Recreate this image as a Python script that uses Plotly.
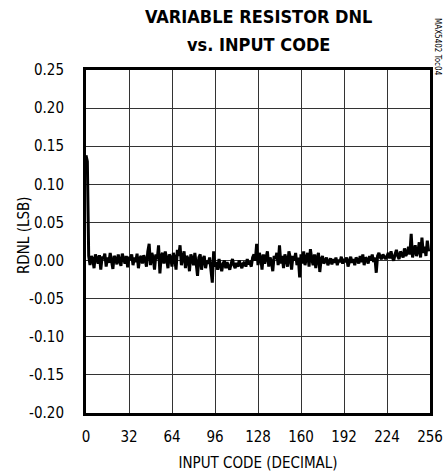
import plotly.graph_objects as go

codes = list(range(256))
rdnl = [
    0.138, 0.130, 0.006, -0.006, 0.006, 0.002, -0.010, 0.008, 0.003, -0.004, 0.007, -0.012, 0.005, 0.002, 0.009, -0.008,
    0.004, -0.003, 0.010, 0.001, -0.011, 0.006, 0.003, -0.005, 0.008, 0.000, -0.007, 0.009, 0.002, -0.004, 0.006, -0.009,
    0.005, 0.001, 0.008, -0.006, 0.004, -0.002, 0.009, -0.010, 0.003, 0.006, -0.004, 0.007, 0.001, -0.008, 0.012, 0.022,
    -0.006, 0.010, 0.004, -0.012, 0.008, 0.002, 0.020, -0.017, 0.006, 0.010, -0.004, 0.012, 0.002, -0.010, 0.008, 0.004,
    -0.008, 0.010, 0.003, -0.012, 0.014, 0.006, 0.020, -0.006, 0.004, 0.012, -0.010, 0.006, 0.002, -0.014, 0.008, 0.003,
    -0.006, 0.010, -0.004, -0.020, 0.004, 0.008, -0.012, 0.002, 0.006, -0.010, 0.000, -0.004, 0.004, -0.016, -0.029, 0.012,
    -0.008, -0.002, -0.012, 0.002, -0.006, -0.014, -0.004, 0.000, -0.010, -0.002, -0.008, -0.012, -0.004, 0.002, -0.006, -0.010,
    -0.003, -0.008, 0.000, -0.006, -0.010, -0.004, -0.002, -0.008, 0.002, -0.005, -0.003, -0.008, 0.004, 0.008, 0.000, 0.022,
    -0.006, 0.010, 0.004, -0.012, 0.008, -0.004, 0.006, 0.012, -0.008, 0.004, -0.002, -0.014, 0.006, 0.002, 0.010, -0.006,
    0.020, -0.004, 0.006, -0.010, 0.008, 0.002, -0.008, 0.012, 0.004, -0.012, 0.006, 0.000, 0.010, -0.006, 0.004, -0.022,
    0.008, -0.004, 0.012, -0.006, 0.004, 0.010, -0.008, 0.015, 0.002, -0.006, 0.008, -0.010, 0.004, 0.010, -0.015, 0.002,
    0.006, -0.004, 0.000, 0.004, -0.006, -0.002, 0.003, -0.005, 0.002, -0.003, 0.004, -0.006, 0.001, -0.002, 0.005, -0.004,
    0.002, -0.002, 0.004, -0.008, 0.000, 0.005, -0.003, 0.002, -0.006, 0.004, 0.001, -0.004, 0.006, -0.002, 0.008, -0.006,
    0.004, 0.002, -0.004, 0.006, 0.000, 0.008, -0.002, 0.004, -0.016, 0.006, 0.010, 0.004, 0.002, 0.008, 0.005, 0.002,
    0.006, 0.010, 0.003, 0.012, 0.004, 0.000, 0.008, 0.014, 0.006, 0.002, 0.012, 0.008, 0.004, 0.016, 0.006, 0.010,
    0.018, 0.008, 0.035, 0.004, 0.014, 0.020, 0.006, 0.012, 0.024, 0.004, 0.030, 0.010, 0.018, 0.006, 0.026, 0.012,
]
x_ticks = [0, 32, 64, 96, 128, 160, 192, 224, 256]
y_ticks = [0.25, 0.20, 0.15, 0.10, 0.05, 0.00, -0.05, -0.10, -0.15, -0.20]
y_labels = ["0.25", "0.20", "0.15", "0.10", "0.05", "0.00", "-0.05", "-0.10", "-0.15", "-0.20"]

FONT = "DejaVu Sans Condensed, Roboto, sans-serif"

fig = go.Figure()
fig.add_trace(go.Scatter(x=codes, y=rdnl, mode="lines",
                         line=dict(color="black", width=3), showlegend=False))

fig.update_layout(
    width=443, height=475,
    margin=dict(l=86, r=13, t=70, b=62, autoexpand=False),
    paper_bgcolor="white", plot_bgcolor="white",
    font=dict(family=FONT, size=15, color="black"),
)
fig.update_xaxes(range=[0, 256], tickvals=x_ticks, ticktext=[str(v) for v in x_ticks],
                 showgrid=True, gridcolor="#333333", gridwidth=1,
                 showline=True, linecolor="black", linewidth=3, mirror=True,
                 ticks="", ticklabelstandoff=8, zeroline=False, automargin=False,
                 title=dict(text="INPUT CODE (DECIMAL)", standoff=13,
                            font=dict(family=FONT, size=15)))
fig.update_yaxes(range=[-0.20, 0.25], tickvals=y_ticks, ticktext=y_labels,
                 showgrid=True, gridcolor="#333333", gridwidth=1,
                 showline=True, linecolor="black", linewidth=3, mirror=True,
                 ticks="", ticklabelstandoff=16, zeroline=False, automargin=False)

fig.add_annotation(text="<b>VARIABLE RESISTOR DNL</b>", xref="paper", yref="paper",
                   x=(258 - 86) / 344, y=(413 - 17) / 343,
                   xanchor="center", yanchor="middle", showarrow=False,
                   font=dict(family=FONT, size=18))
fig.add_annotation(text="<b>vs. INPUT CODE</b>", xref="paper", yref="paper",
                   x=(258 - 86) / 344, y=(413 - 44) / 343,
                   xanchor="center", yanchor="middle", showarrow=False,
                   font=dict(family=FONT, size=18))
fig.add_annotation(text="RDNL (LSB)", textangle=-90, xref="paper", yref="paper",
                   x=-62 / 344, y=(413 - 235) / 343, xanchor="center", yanchor="middle",
                   showarrow=False, font=dict(family=FONT, size=15))
fig.add_annotation(text="MAX5402 Toc04", textangle=90, xref="paper", yref="paper",
                   x=1 + 7 / 344, y=1 + 23 / 343, xanchor="center", yanchor="middle",
                   showarrow=False, font=dict(family=FONT, size=8))

fig.write_html("out.html", config={"displayModeBar": False},
               post_script="document.body.style.margin='0';document.body.style.overflow='hidden';")
